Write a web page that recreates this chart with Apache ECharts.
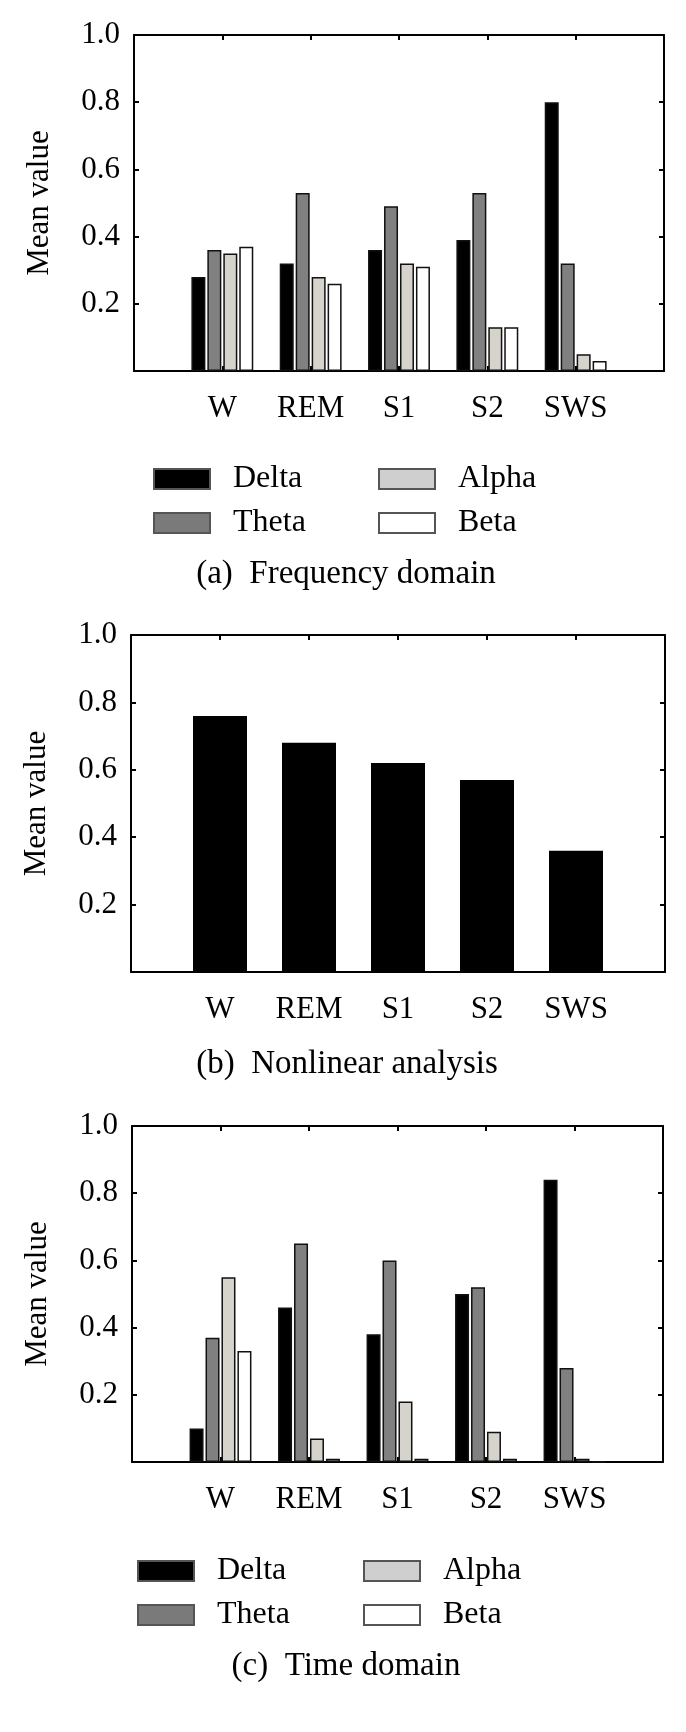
<!DOCTYPE html>
<html><head><meta charset="utf-8">
<script src="https://cdn.jsdelivr.net/npm/echarts@6/dist/echarts.min.js"></script>
<style>html,body{margin:0;padding:0;background:#fff}#c{width:686px;height:1732px}</style>
</head><body><div id="c"></div>
<script>
// ---- data ----
const categories = ['W', 'REM', 'S1', 'S2', 'SWS'];
const bandNames = ['Delta', 'Theta', 'Alpha', 'Beta'];
// (a) Frequency domain
const freqDelta = [0.28, 0.32, 0.36, 0.39, 0.80];
const freqTheta = [0.36, 0.53, 0.49, 0.53, 0.32];
const freqAlpha = [0.35, 0.28, 0.32, 0.13, 0.05];
const freqBeta  = [0.37, 0.26, 0.31, 0.13, 0.03];
// (b) Nonlinear analysis
const nonlinear = [0.76, 0.68, 0.62, 0.57, 0.36];
// (c) Time domain
const timeDelta = [0.10, 0.46, 0.38, 0.50, 0.84];
const timeTheta = [0.37, 0.65, 0.60, 0.52, 0.28];
const timeAlpha = [0.55, 0.07, 0.18, 0.09, 0.01];
const timeBeta  = [0.33, 0.01, 0.01, 0.01, 0.00];
// y ticks
const yMin = 0, yMax = 1.0, yInterval = 0.2;
const captions = ['(a)  Frequency domain', '(b)  Nonlinear analysis', '(c)  Time domain'];

// ---- styles ----
const FONT = '"Liberation Serif", "Times New Roman", serif';
const fills = {Delta: '#000000', Theta: '#808080', Alpha: '#d6d3cc', Beta: '#ffffff'};
const legendFills = {Delta: '#000000', Theta: '#7a7a7a', Alpha: '#cfcfcf', Beta: '#ffffff'};

const axisCats = [''].concat(categories, ['']);
const pad = arr => [null].concat(arr, [null]);

const grids = [
  {left: 134, top: 35, width: 530, height: 336},
  {left: 131, top: 635, width: 534, height: 337},
  {left: 132, top: 1126, width: 531, height: 336}
];

const xAxis = [], yAxis = [];
grids.forEach((g, i) => {
  const line = {show: true, onZero: false, lineStyle: {color: '#000', width: 2}};
  const tick = {show: true, inside: true, length: 5, lineStyle: {color: '#000', width: 2}};
  xAxis.push({
    type: 'category', gridIndex: i, position: 'bottom', data: axisCats, boundaryGap: false,
    axisLine: line, axisTick: Object.assign({interval: 0}, tick),
    axisLabel: {show: true, interval: 0, color: '#000', fontFamily: FONT, fontSize: 31, margin: 22},
    splitLine: {show: false}
  });
  xAxis.push({
    type: 'category', gridIndex: i, position: 'top', data: axisCats, boundaryGap: false,
    axisLine: line, axisTick: Object.assign({interval: 0}, tick),
    axisLabel: {show: false}, splitLine: {show: false}
  });
  yAxis.push({
    type: 'value', gridIndex: i, position: 'left', min: yMin, max: yMax, interval: yInterval,
    axisLine: line, axisTick: tick,
    axisLabel: {show: true, color: '#000', fontFamily: FONT, fontSize: 31, margin: 14,
      formatter: v => (v === 0 ? '' : v.toFixed(1))},
    splitLine: {show: false},
    name: 'Mean value', nameLocation: 'middle', nameGap: 79, nameRotate: 90,
    nameTextStyle: {color: '#000', fontFamily: FONT, fontSize: 31}
  });
  yAxis.push({
    type: 'value', gridIndex: i, position: 'right', min: yMin, max: yMax, interval: yInterval,
    axisLine: line, axisTick: tick,
    axisLabel: {show: false}, splitLine: {show: false}
  });
});

function bandSeries(gridIdx, arrays) {
  return bandNames.map((name, k) => ({
    name: name, type: 'bar', xAxisIndex: gridIdx * 2, yAxisIndex: gridIdx * 2,
    data: pad(arrays[k]), barWidth: 14, barGap: '14%',
    itemStyle: {color: fills[name], borderColor: '#111', borderWidth: 1.5},
    emphasis: {disabled: true}, animation: false
  }));
}

const series = [].concat(
  bandSeries(0, [freqDelta, freqTheta, freqAlpha, freqBeta]),
  [{name: 'Nonlinear', type: 'bar', xAxisIndex: 2, yAxisIndex: 2, data: pad(nonlinear), barWidth: 54,
    itemStyle: {color: '#000'}, emphasis: {disabled: true}, animation: false}],
  bandSeries(2, [timeDelta, timeTheta, timeAlpha, timeBeta])
);

function legendCol(names, left, top) {
  return {
    orient: 'vertical', left: left, top: top, padding: 0, itemGap: 12,
    itemWidth: 56, itemHeight: 20, selectedMode: false,
    textStyle: {color: '#000', fontFamily: FONT, fontSize: 32, lineHeight: 30, padding: [0, 0, 0, 18]},
    data: names.map(n => ({name: n, icon: 'rect',
      itemStyle: {color: legendFills[n], borderColor: '#555', borderWidth: 2}}))
  };
}

const legend = [
  legendCol(['Delta', 'Theta'], 153, 463),
  legendCol(['Alpha', 'Beta'], 378, 463),
  legendCol(['Delta', 'Theta'], 137, 1555),
  legendCol(['Alpha', 'Beta'], 363, 1555)
];

const capPos = [[346, 574], [347, 1064], [346, 1666]];
const graphic = captions.map((t, i) => ({
  type: 'text', x: capPos[i][0], y: capPos[i][1],
  style: {text: t, fill: '#000', font: '33px ' + FONT, align: 'center', verticalAlign: 'middle'}
}));

const chart = echarts.init(document.getElementById('c'), null, {renderer: 'canvas'});
chart.setOption({
  animation: false,
  backgroundColor: '#fff',
  grid: grids,
  xAxis: xAxis,
  yAxis: yAxis,
  legend: legend,
  series: series,
  graphic: graphic
});
</script></body></html>
